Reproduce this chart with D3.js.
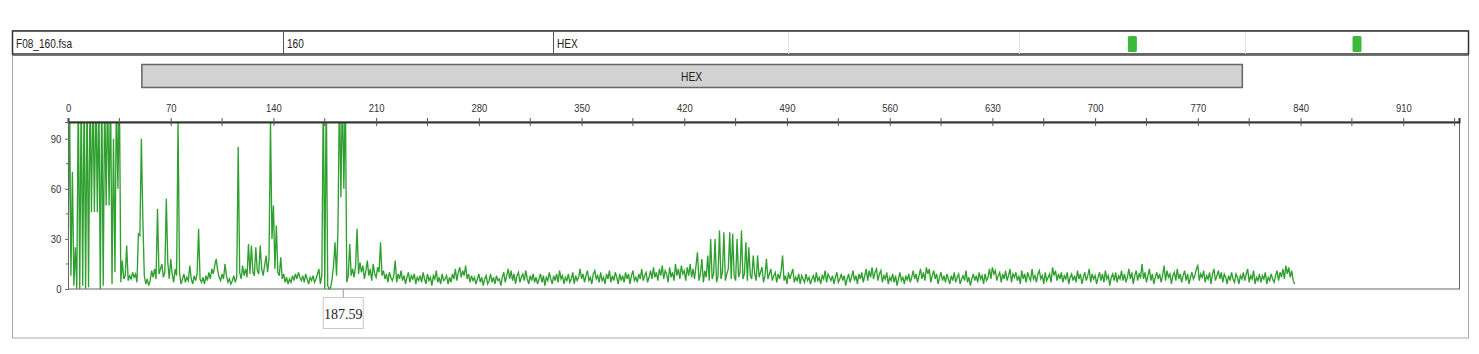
<!DOCTYPE html>
<html>
<head>
<meta charset="utf-8">
<script src="https://cdn.jsdelivr.net/npm/d3@7/dist/d3.min.js"></script>
<style>
  html, body { margin: 0; padding: 0; background: #fff; }
  svg { display: block; }
  .cond { transform-box: fill-box; transform-origin: center; transform: scaleX(0.86); }
  .condL { transform-box: fill-box; transform-origin: left; transform: scaleX(0.84); }
</style>
</head>
<body>
<svg id="chart" width="1479" height="354"></svg>
<script>
// ---------- data ----------
const headerFields = ["F08_160.fsa", "160", "HEX"];
const dyeName = "HEX";
const dyeRange = [50, 800];           // size range covered by the dye bar (bp)
const markerSquares = [723, 867];    // green markers in the header
const xTickValues = [0, 70, 140, 210, 280, 350, 420, 490, 560, 630, 700, 770, 840, 910];
const xMinorTicks = [35, 105, 175, 245, 315, 385, 455, 525, 595, 665, 735, 805, 875, 945];
const yTickValues = [0, 30, 60, 90];
const yMinorTicks = [15, 45, 75];
const xDomain = [0, 948];
const yDomain = [0, 100];
const peakLabel = { size: 187.59, text: "187.59" };
const sizeStart = 0, sizeStep = 1;
// RFU signal sampled every 1 bp, from 0 bp
const signal = [
  5,120,8,70,2,25,0,120,0,120,2,120,0,120,1,120,46,120,46,120,
  46,120,0,120,2,120,50,120,50,120,3,90,10,120,60,120,4,17,6,8,
  26,5,8,6,10,7,9,4,33,32,90,42,8,3,6,2,5,11,7,12,
  6,48,9,12,15,7,10,54,16,6,18,9,4,12,8,100,10,3,6,9,
  4,7,5,14,6,3,8,5,9,36,6,4,7,3,8,5,10,6,12,9,
  14,18,11,7,5,9,6,15,8,4,6,3,5,8,4,7,85,10,6,14,
  8,12,7,27,9,26,10,8,25,11,9,26,12,8,14,20,10,18,100,30,
  50,12,38,10,8,19,6,9,4,7,3,6,4,8,5,9,6,10,7,5,
  8,4,9,6,3,7,5,8,4,6,9,12,3,8,120,0,120,2,0,1,
  6,14,28,8,36,120,55,120,60,120,4,8,27,8,12,7,14,36,9,16,
  10,14,6,11,17,8,12,5,15,9,7,13,10,28,8,11,6,9,4,10,
  7,5,8,17,4,9,6,11,5,8,3,7,10,4,8,6,9,3,7,5,
  8,4,10,6,3,9,5,7,2,8,6,11,4,7,3,9,5,6,8,3,
  7,4,9,6,12,5,10,13,7,11,8,14,6,9,4,8,5,7,3,6,
  9,4,7,2,6,8,3,5,9,4,7,3,8,5,6,2,7,10,4,8,
  12,6,11,5,9,3,8,10,4,7,9,5,11,6,3,8,5,9,4,7,
  3,6,9,4,8,2,7,5,10,6,3,8,5,9,4,11,6,8,3,7,
  5,9,4,6,10,3,8,5,7,12,6,9,4,8,11,5,7,3,9,11,
  6,8,4,10,5,7,3,9,6,11,4,8,5,10,7,3,9,5,8,4,
  10,6,9,3,8,11,5,7,4,9,6,12,5,8,10,4,7,11,6,13,
  7,10,5,12,8,14,6,11,9,4,13,7,10,5,15,8,12,6,14,9,
  11,5,13,8,15,7,12,6,14,22,5,9,18,4,11,7,20,5,30,6,
  9,30,4,8,35,6,10,34,5,9,12,34,6,33,8,5,30,7,10,35,
  6,9,28,5,25,8,6,20,9,5,20,7,10,13,4,8,18,6,9,12,
  5,8,10,4,9,6,11,20,5,8,3,10,6,9,12,4,7,5,9,3,
  8,6,4,9,5,7,3,6,8,4,10,5,7,3,8,6,11,4,9,7,
  5,8,3,7,10,4,6,9,5,8,2,6,9,4,7,11,5,8,3,9,
  6,10,4,8,12,5,11,7,13,6,10,12,5,9,11,4,8,6,10,3,
  7,5,9,4,8,2,6,10,5,7,3,8,5,9,4,7,11,6,9,4,
  8,12,6,10,5,13,9,12,4,8,11,6,9,3,7,10,5,8,4,9,
  6,3,8,5,10,4,7,9,3,6,8,5,11,4,7,2,6,9,5,8,
  4,10,6,8,3,9,5,7,12,6,13,9,11,5,8,10,4,9,6,11,
  5,8,12,4,9,7,10,5,8,3,11,6,9,4,10,7,5,12,6,8,
  4,9,11,6,8,3,10,5,7,9,4,13,8,11,5,9,6,10,4,8,
  6,10,3,7,9,5,8,4,11,6,9,3,7,10,5,8,12,4,9,6,
  8,3,7,10,5,9,4,11,6,8,2,7,9,5,10,4,8,6,11,5,
  9,4,7,12,6,10,3,8,11,5,9,7,15,6,10,4,8,12,5,9,
  3,7,10,6,9,4,8,14,5,11,7,9,3,8,10,5,12,6,9,4,
  8,11,5,9,3,7,10,6,8,12,14,5,9,7,11,4,8,6,10,3,
  9,12,5,8,11,6,10,4,9,7,3,8,5,10,6,4,9,7,3,8,
  6,10,5,9,12,4,8,6,11,3,7,5,9,4,8,6,10,3,7,5,
  9,6,4,8,11,5,10,7,12,6,14,9,13,7,11,5,3
];

// ---------- layout ----------
const svg = d3.select("#chart");
const plot = { left: 68, right: 1459, top: 122, bottom: 289 };
const traceColor = "#2fa02f";
const font = '"Liberation Sans", Arial, sans-serif';

const x = d3.scaleLinear().domain(xDomain).range([plot.left, plot.right]);
const y = d3.scaleLinear().domain(yDomain).range([plot.bottom, plot.top]);

svg.append("rect").attr("width", 1479).attr("height", 354).attr("fill", "#fff");

// outer panel
svg.append("rect").attr("x", 12.5).attr("y", 30.5).attr("width", 1456).attr("height", 307.5)
  .attr("fill", "none").attr("stroke", "#a9a9a9").attr("stroke-width", 1);

// header row
const hdr = svg.append("g");
hdr.append("rect").attr("x", 12.5).attr("y", 31).attr("width", 1456).attr("height", 23)
  .attr("fill", "#fff").attr("stroke", "#333").attr("stroke-width", 1.5);
hdr.append("line").attr("x1", 12).attr("x2", 1469).attr("y1", 55.5).attr("y2", 55.5)
  .attr("stroke", "#777").attr("stroke-width", 1);
const dividers = [{ x: 283, c: "#555" }, { x: 553, c: "#555" }, { x: 788, c: "#e2e2e2" },
                  { x: 1019, c: "#e2e2e2" }, { x: 1245, c: "#e2e2e2" }];
hdr.selectAll("line.div").data(dividers).join("line").attr("class", "div")
  .attr("x1", d => d.x + 0.5).attr("x2", d => d.x + 0.5).attr("y1", 32).attr("y2", 54)
  .attr("stroke", d => d.c).attr("stroke-width", 1);
const headerX = [16, 287, 557];
hdr.selectAll("text").data(headerFields).join("text").attr("class", "condL")
  .attr("x", (d, i) => headerX[i]).attr("y", 48)
  .attr("font-family", font).attr("font-size", 12).attr("fill", "#222")
  .text(d => d);
const hx = d3.scaleLinear().domain([0, 1000]).range([0, 1560]);
hdr.selectAll("rect.mk").data(markerSquares).join("rect").attr("class", "mk")
  .attr("x", d => hx(d)).attr("y", 36).attr("width", 9).attr("height", 16).attr("rx", 1.5)
  .attr("fill", "#3db83d");

// dye bar
svg.append("rect").attr("x", x(dyeRange[0]) + 0.5).attr("y", 64.5)
  .attr("width", x(dyeRange[1]) - x(dyeRange[0])).attr("height", 23)
  .attr("fill", "#d2d2d2").attr("stroke", "#666").attr("stroke-width", 1.5);
svg.append("text").attr("class", "cond")
  .attr("x", (x(dyeRange[0]) + x(dyeRange[1])) / 2).attr("y", 81)
  .attr("text-anchor", "middle").attr("font-family", font).attr("font-size", 12)
  .attr("fill", "#222").text(dyeName);

// plot frame
svg.append("rect").attr("x", plot.left + 0.5).attr("y", plot.top)
  .attr("width", plot.right - plot.left).attr("height", plot.bottom - plot.top)
  .attr("fill", "#fff").attr("stroke", "#666").attr("stroke-width", 1);

// clip
svg.append("clipPath").attr("id", "clip").append("rect")
  .attr("x", plot.left).attr("y", plot.top).attr("width", plot.right - plot.left)
  .attr("height", plot.bottom - plot.top + 1);

// trace
const line = d3.line()
  .x((d, i) => x(sizeStart + i * sizeStep))
  .y(d => y(d));
svg.append("path").datum(signal).attr("clip-path", "url(#clip)")
  .attr("d", line).attr("fill", "none").attr("stroke", traceColor)
  .attr("stroke-width", 1.35).attr("stroke-linejoin", "miter");

// top axis
const xAxis = d3.axisTop(x).tickValues(xTickValues).tickSize(4).tickPadding(6)
  .tickFormat(d3.format("d"));
const gx = svg.append("g").attr("transform", `translate(0,${plot.top})`).call(xAxis);
gx.select(".domain").attr("stroke", "#333").attr("stroke-width", 2);
gx.selectAll(".tick line").attr("y2", -4).attr("y1", 4).attr("stroke", "#555");
gx.selectAll(".tick text").attr("class", "cond").attr("font-family", font)
  .attr("font-size", 11).attr("fill", "#333");
svg.append("g").selectAll("line").data(xMinorTicks.filter(d => d <= xDomain[1])).join("line")
  .attr("x1", d => x(d)).attr("x2", d => x(d)).attr("y1", plot.top - 4).attr("y2", plot.top + 4)
  .attr("stroke", "#555").attr("stroke-width", 1);

// left axis
const yAxis = d3.axisLeft(y).tickValues(yTickValues).tickSize(3).tickPadding(3)
  .tickFormat(d3.format("d"));
const gy = svg.append("g").attr("transform", `translate(${plot.left},0)`).call(yAxis);
gy.select(".domain").attr("stroke", "#666");
gy.selectAll(".tick line").attr("stroke", "#666");
gy.selectAll(".tick text").attr("class", "cond").attr("font-family", font)
  .attr("font-size", 11).attr("fill", "#333");
svg.append("g").selectAll("line").data(yMinorTicks).join("line")
  .attr("x1", plot.left - 2).attr("x2", plot.left).attr("y1", d => y(d)).attr("y2", d => y(d))
  .attr("stroke", "#666");

// peak label
const px = x(peakLabel.size);
svg.append("line").attr("x1", px).attr("x2", px).attr("y1", plot.bottom).attr("y2", 297)
  .attr("stroke", "#9a9a9a");
svg.append("rect").attr("x", px - 20).attr("y", 297.5).attr("width", 40).attr("height", 31)
  .attr("fill", "#fff").attr("stroke", "#c8c8c8");
svg.append("text").attr("x", px).attr("y", 319).attr("text-anchor", "middle")
  .attr("font-family", '"Liberation Serif", "Times New Roman", serif').attr("font-size", 14)
  .attr("fill", "#222").text(peakLabel.text);
</script>
</body>
</html>
